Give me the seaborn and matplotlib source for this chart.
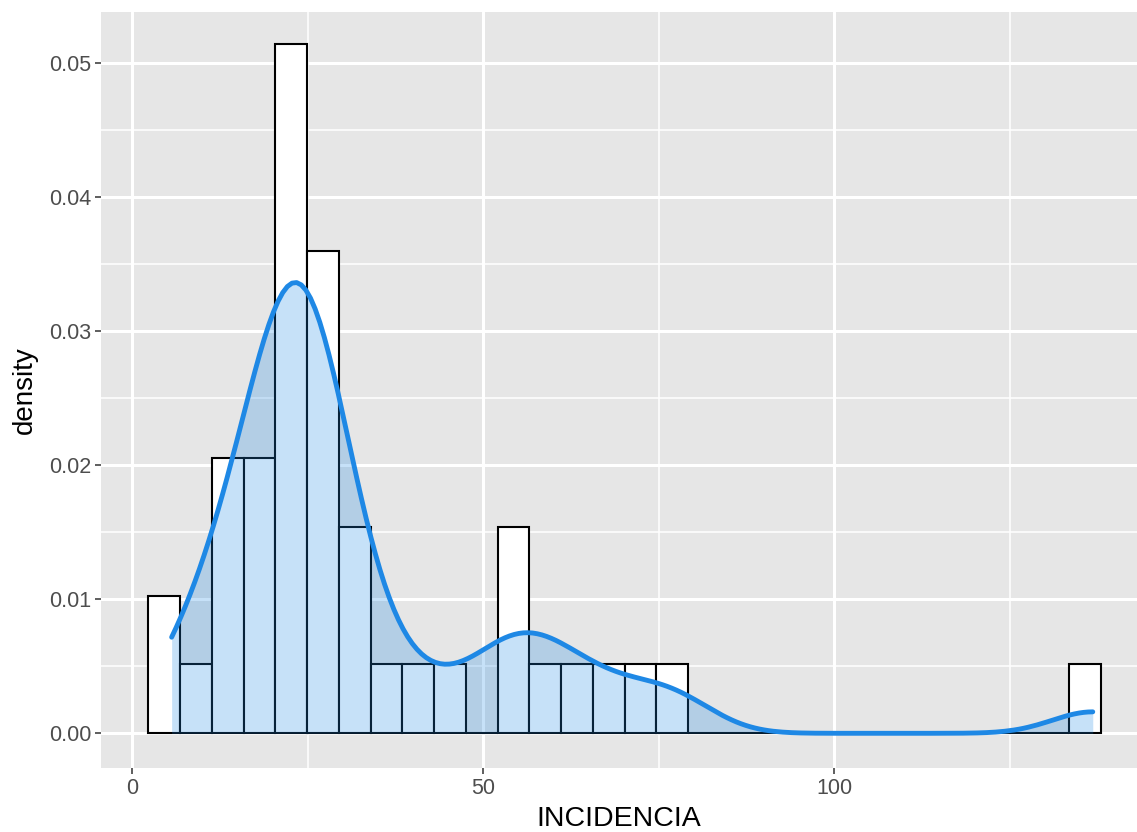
import numpy as np
import matplotlib
matplotlib.use("Agg")
import matplotlib.pyplot as plt
import seaborn as sns
from matplotlib.ticker import MultipleLocator

incidencia = [
    5.6, 6.7,
    11.0,
    12.8, 13.8, 14.8, 15.6,
    17.0, 18.2, 19.2, 20.0,
    20.6, 21.1, 21.6, 22.1, 22.6, 23.0, 23.5, 24.0, 24.4, 24.8,
    25.0, 25.5, 26.0, 26.6, 27.2, 27.8, 28.5,
    30.0, 31.2, 32.6,
    36.5,
    40.7,
    47.2,
    52.6, 54.2, 55.9,
    59.5,
    62.5,
    67.0,
    73.5,
    78.5,
    136.8,
]

x_ticks = [0, 50, 100]
y_ticks = [0.00, 0.01, 0.02, 0.03, 0.04, 0.05]
y_tick_labels = ["0.00", "0.01", "0.02", "0.03", "0.04", "0.05"]

sns.set_theme(style="darkgrid", rc={
    "axes.facecolor": "#E6E6E6",
    "grid.color": "white",
})
plt.rcParams["font.family"] = ["Liberation Sans", "DejaVu Sans"]

fig = plt.figure(figsize=(11.37, 8.32), dpi=100)
ax = fig.add_axes([0.0886, 0.0769, 0.9114, 0.9083])

data = np.array(incidencia)

# ggplot-style 30 bins
w = (data.max() - data.min()) / 29
origin = w / 2 + np.floor((data.min() - w / 2) / w) * w
edges = origin + w * np.arange(31)

sns.histplot(x=data, bins=edges, stat="density", color="white",
             edgecolor="black", linewidth=1.5, alpha=1, ax=ax, zorder=2)

# nrd0 bandwidth like R's density()
sd = data.std(ddof=1)
iqr = np.subtract(*np.percentile(data, [75, 25]))
bw_adj = 0.9 * min(sd, iqr / 1.34) / sd

sns.kdeplot(x=data, bw_adjust=bw_adj, cut=0, fill=True, color="#1E88E5",
            alpha=0.25, linewidth=0, ax=ax, zorder=3)
sns.kdeplot(x=data, bw_adjust=bw_adj, cut=0, color="#1E88E5",
            linewidth=3.5, ax=ax, zorder=4)

ax.set_xlim(-4.5, 143.1)
ax.set_ylim(-0.00259, 0.0538)
ax.set_xticks(x_ticks)
ax.set_xticklabels([str(t) for t in x_ticks])
ax.set_yticks(y_ticks)
ax.set_yticklabels(y_tick_labels)
ax.xaxis.set_minor_locator(MultipleLocator(25))
ax.yaxis.set_minor_locator(MultipleLocator(0.005))

ax.grid(which="major", color="white", linewidth=2.2)
ax.grid(which="minor", color="white", linewidth=1.1)
ax.set_axisbelow(True)
for s in ax.spines.values():
    s.set_visible(False)

ax.tick_params(which="major", length=4, width=1.1, color="#333333",
               labelcolor="#4D4D4D", labelsize=15.5, pad=3, bottom=True, left=True)
ax.tick_params(which="minor", length=0)

ax.set_xlabel("INCIDENCIA", fontsize=20.5, color="black", labelpad=5)
ax.set_ylabel("density", fontsize=20, color="black", labelpad=8)

fig.savefig("out.png", dpi=100)
